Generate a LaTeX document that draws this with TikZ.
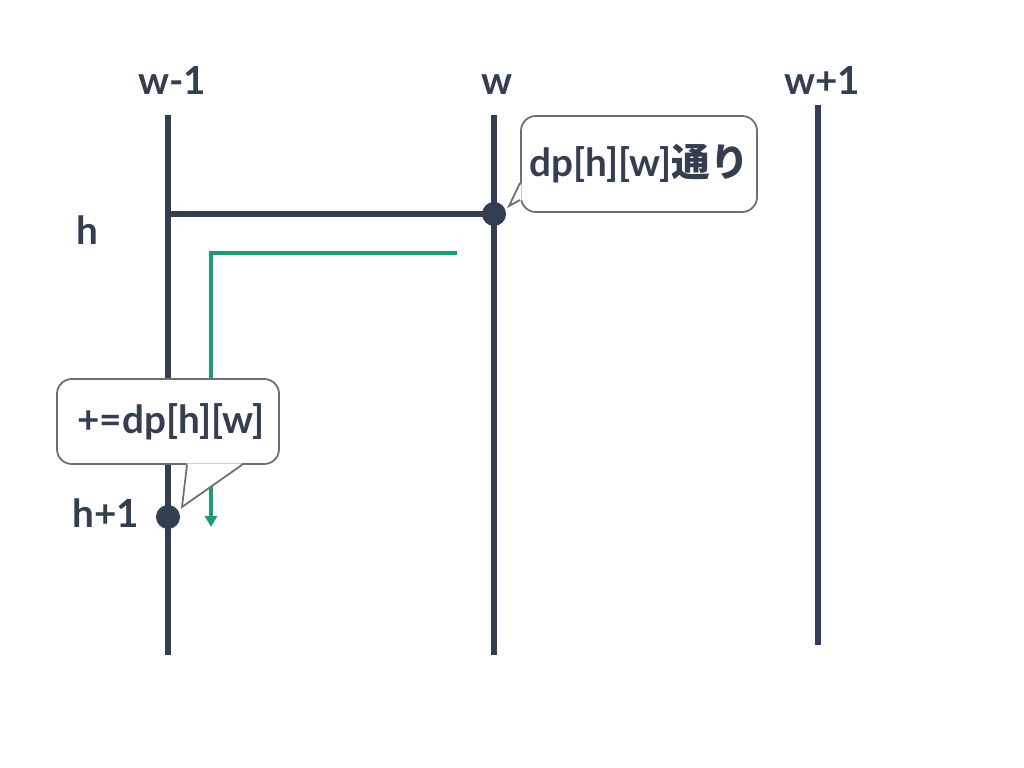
\documentclass[tikz,border=0pt]{standalone}
\usepackage{fontspec}
\setmainfont{Lato}
\newfontfamily\jpfont{Noto Sans CJK JP}
\usetikzlibrary{arrows.meta, calc}
\definecolor{ink}{HTML}{333F50}
\definecolor{flow}{HTML}{1E9B78}
\definecolor{rim}{HTML}{6E6E6E}

\begin{document}
\begin{tikzpicture}[x=0.01cm, y=-0.01cm]
    % Define styles
    \tikzstyle{rail} = [draw=ink, line width=1.45pt]
    \tikzstyle{lbl} = [text=ink, font=\bfseries\fontsize{11}{13}\selectfont]
    \tikzstyle{dot} = [circle, fill=ink, inner sep=0pt, minimum size=0.24cm]
    \tikzstyle{bubble} = [rectangle, draw=rim, fill=white, line width=0.5pt, rounded corners=0.15cm, inner xsep=0pt, align=center, text=ink, font=\bfseries\fontsize{11}{13}\selectfont]
    \tikzstyle{tail} = [draw=rim, line width=0.5pt, line join=miter]
    \tikzstyle{arrow} = [-{Triangle[length=1.1mm, width=1.2mm]}, draw=flow, line width=1.15pt]

    \useasboundingbox (0,0) rectangle (1024,768);

    % Column labels
    \node[lbl, anchor=base] (lw0) at (172,95) {w-1};
    \node[lbl, anchor=base] (lw1) at (497,95) {w};
    \node[lbl, anchor=base] (lw2) at (822,95) {w+1};
    % Row labels
    \node[lbl, anchor=base] (lh0) at (87,245) {h};
    \node[lbl, anchor=base] (lh1) at (106,528) {h+1};

    % Rails
    \coordinate (a0) at (168,115);
    \coordinate (b0) at (168,655);
    \coordinate (a1) at (494,115);
    \coordinate (b1) at (494,655);
    \coordinate (a2) at (818,105);
    \coordinate (b2) at (818,645);
    \coordinate (hl) at (168,214);
    \draw[rail] (a0) -- (b0);
    \draw[rail] (a1) -- (b1);
    \draw[rail] (a2) -- (b2);
    \draw[rail] (hl) -- (494,214);

    % Flow
    \coordinate (g0) at (457,253);
    \coordinate (g1) at (211,527);
    \draw[arrow] (g0) -| (g1);

    % Dots
    \node[dot] (d1) at (494,214) {};
    \node[dot] (d2) at (168,517) {};

    % Callouts
    \node[bubble, minimum width=2.36cm, minimum height=0.96cm] (c1) at (639,164) {dp[h][w]{\jpfont 通り}};
    \coordinate (t1) at (509,206);
    \fill[white] ($(c1.west)+(1.5,19)$) -- (t1) -- ($(c1.west)+(1.5,36)$) -- cycle;
    \draw[tail] ($(c1.west)+(0,19)$) -- (t1) -- ($(c1.west)+(0,36)$);

    \node[bubble, minimum width=2.22cm, minimum height=0.85cm] (c2) at (168,421.5) {\hspace{0.06cm}+=dp[h][w]};
    \coordinate (t2) at (182,507);
    \fill[white] ($(c2.south)+(19,-1.5)$) -- (t2) -- ($(c2.south)+(74,-1.5)$) -- cycle;
    \draw[tail] ($(c2.south)+(19,0)$) -- (t2) -- ($(c2.south)+(74,0)$);

\end{tikzpicture}
\end{document}
